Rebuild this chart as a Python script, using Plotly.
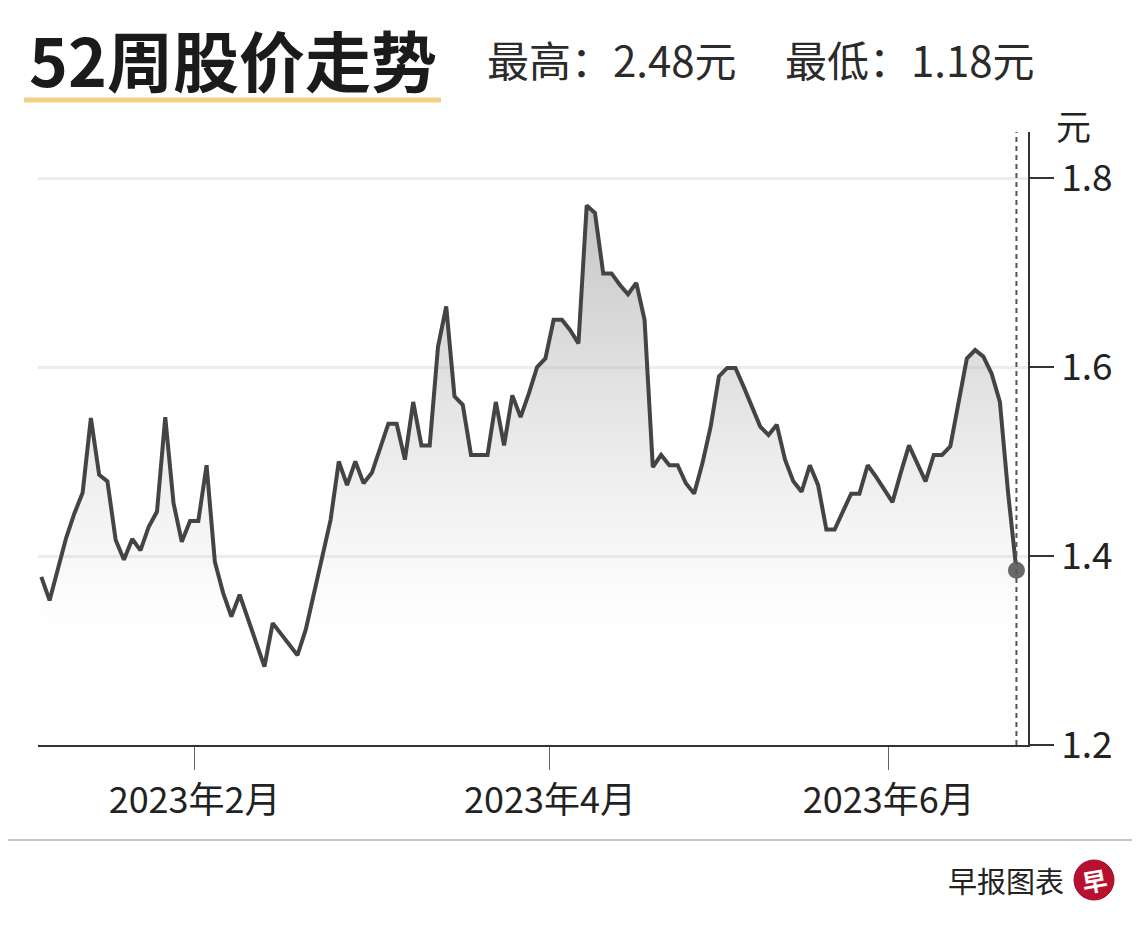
import pandas as pd
import plotly.graph_objects as go

# ---------------- data ----------------
holidays = ["2023-01-02", "2023-01-23", "2023-01-24", "2023-04-07", "2023-05-01", "2023-06-02"]
dates = pd.bdate_range("2023-01-03", "2023-06-23", freq="C", holidays=holidays)

price = [
    1.378, 1.353, 1.386, 1.419, 1.445, 1.467, 1.546, 1.486, 1.479, 1.417,
    1.396, 1.418, 1.406, 1.431, 1.447, 1.547, 1.456, 1.415, 1.437, 1.437,
    1.496, 1.394, 1.361, 1.336, 1.359, 1.333, 1.308, 1.283, 1.329, 1.318,
    1.307, 1.295, 1.322, 1.362, 1.399, 1.438, 1.500, 1.475, 1.500, 1.477,
    1.488, 1.514, 1.540, 1.540, 1.502, 1.563, 1.517, 1.517, 1.621, 1.664,
    1.569, 1.560, 1.507, 1.507, 1.507, 1.563, 1.517, 1.570, 1.547, 1.572,
    1.600, 1.609, 1.650, 1.650, 1.639, 1.625, 1.771, 1.763, 1.699, 1.699,
    1.687, 1.677, 1.689, 1.650, 1.494, 1.507, 1.496, 1.496, 1.477, 1.466,
    1.498, 1.537, 1.590, 1.599, 1.599, 1.579, 1.558, 1.537, 1.528, 1.539,
    1.502, 1.479, 1.468, 1.496, 1.475, 1.428, 1.428, 1.447, 1.466, 1.466,
    1.496, 1.484, 1.470, 1.457, 1.488, 1.517, 1.498, 1.479, 1.507, 1.507,
    1.516, 1.565, 1.609, 1.618, 1.611, 1.593, 1.563, 1.466, 1.385,
]
n = min(len(dates), len(price))
dates = dates[:n]
price = price[:n]

tick_months = [2, 4, 6]
tick_labels = ["2023年2月", "2023年4月", "2023年6月"]
y_ticks = [1.2, 1.4, 1.6, 1.8]
y_tick_labels = ["1.2", "1.4", "1.6", "1.8"]

title_text = "52周股价走势"
high_text = "最高：2.48元"
low_text = "最低：1.18元"
unit_text = "元"
source_text = "早报图表"
logo_text = "早"

# ---------------- layout helpers ----------------
W, H = 1140, 928
OFF = 8                            # page body margin
L, R, T, B = 38, 1028, 132, 745    # plot area in reference pixels
def px(x):
    return (x - L) / (R - L)
def py(y):
    return (B - y) / (B - T)

FONT = "Noto Sans CJK SC, Noto Sans, sans-serif"

x_pos = list(range(n))
tick_vals = []
for m in tick_months:
    first = next(i for i, d in enumerate(dates) if d.month == m)
    tick_vals.append(first - 0.45)

y_top = 1.8 + (178 - T) / ((B - 178) / 0.6)

fig = go.Figure()
fig.add_trace(go.Scatter(
    x=x_pos, y=price, mode="lines",
    line=dict(color="#444444", width=4),
    fill="tozeroy",
    fillgradient=dict(type="vertical",
                      colorscale=[[0, "rgba(200,200,200,0)"], [1, "rgba(172,172,172,0.72)"]],
                      start=1.32, stop=1.78),
    customdata=[d.strftime("%Y-%m-%d") for d in dates],
    hovertemplate="%{customdata}<br>%{y:.3f}元<extra></extra>",
))
fig.add_trace(go.Scatter(
    x=[x_pos[-1]], y=[price[-1]], mode="markers",
    marker=dict(size=17, color="#686868"),
    hoverinfo="skip",
))

shapes = [
    dict(type="line", xref="x", yref="paper", x0=x_pos[-1], x1=x_pos[-1], y0=0, y1=1,
         line=dict(color="#555555", width=2, dash="5px,4px"), layer="above"),
    dict(type="line", xref="paper", yref="paper", x0=px(24), x1=px(441), y0=py(100), y1=py(100),
         line=dict(color="#f4cf86", width=5)),
    dict(type="line", xref="paper", yref="paper", x0=px(0), x1=px(1148), y0=py(840), y1=py(840),
         line=dict(color="#c4c4c4", width=2)),
    dict(type="circle", xref="paper", yref="paper", x0=px(1074), x1=px(1114), y0=py(900), y1=py(860),
         fillcolor="#b8112f", line=dict(color="#a00d28", width=1)),
]

annotations = [
    dict(text=f"<b>{title_text}</b>", x=px(27), y=py(58), xref="paper", yref="paper",
         xanchor="left", yanchor="middle", showarrow=False,
         font=dict(family=FONT, size=66, color="#1b1b1b")),
    dict(text=high_text, x=px(485), y=py(58), xref="paper", yref="paper",
         xanchor="left", yanchor="middle", showarrow=False,
         font=dict(family=FONT, size=42, color="#2b2b2b")),
    dict(text=low_text, x=px(783), y=py(58), xref="paper", yref="paper",
         xanchor="left", yanchor="middle", showarrow=False,
         font=dict(family=FONT, size=42, color="#2b2b2b")),
    dict(text=unit_text, x=px(1073), y=py(124), xref="paper", yref="paper",
         xanchor="center", yanchor="middle", showarrow=False,
         font=dict(family=FONT, size=35, color="#222222")),
    dict(text=source_text, x=px(1066), y=py(880), xref="paper", yref="paper",
         xanchor="right", yanchor="middle", showarrow=False,
         font=dict(family=FONT, size=29, color="#222222")),
    dict(text=f"<b>{logo_text}</b>", x=px(1094), y=py(880), xref="paper", yref="paper",
         xanchor="center", yanchor="middle", showarrow=False, textangle=-10,
         font=dict(family=FONT, size=25, color="#ffffff")),
]

fig.update_layout(
    width=W, height=H,
    margin=dict(l=L - OFF, r=W - (R - OFF), t=T - OFF, b=H - (B - OFF), pad=0),
    paper_bgcolor="white", plot_bgcolor="white",
    showlegend=False,
    shapes=shapes,
    annotations=annotations,
    xaxis=dict(
        range=[-0.4, 119.4], showgrid=False, zeroline=False,
        showline=True, linecolor="#333333", linewidth=1.5,
        ticks="outside", ticklen=23, tickwidth=1, tickcolor="#666666",
        tickvals=tick_vals, ticktext=tick_labels,
        tickfont=dict(family=FONT, size=36, color="#222222"),
    ),
    yaxis=dict(
        side="right", range=[1.2, y_top],
        tickvals=y_ticks, ticktext=y_tick_labels,
        showgrid=True, gridcolor="#ececec", gridwidth=3, zeroline=False,
        showline=True, linecolor="#333333", linewidth=1.5,
        ticks="outside", ticklen=24, tickwidth=1.5, tickcolor="#333333",
        tickfont=dict(family=FONT, size=37, color="#222222"),
    ),
)

fig.write_html("out.html")
